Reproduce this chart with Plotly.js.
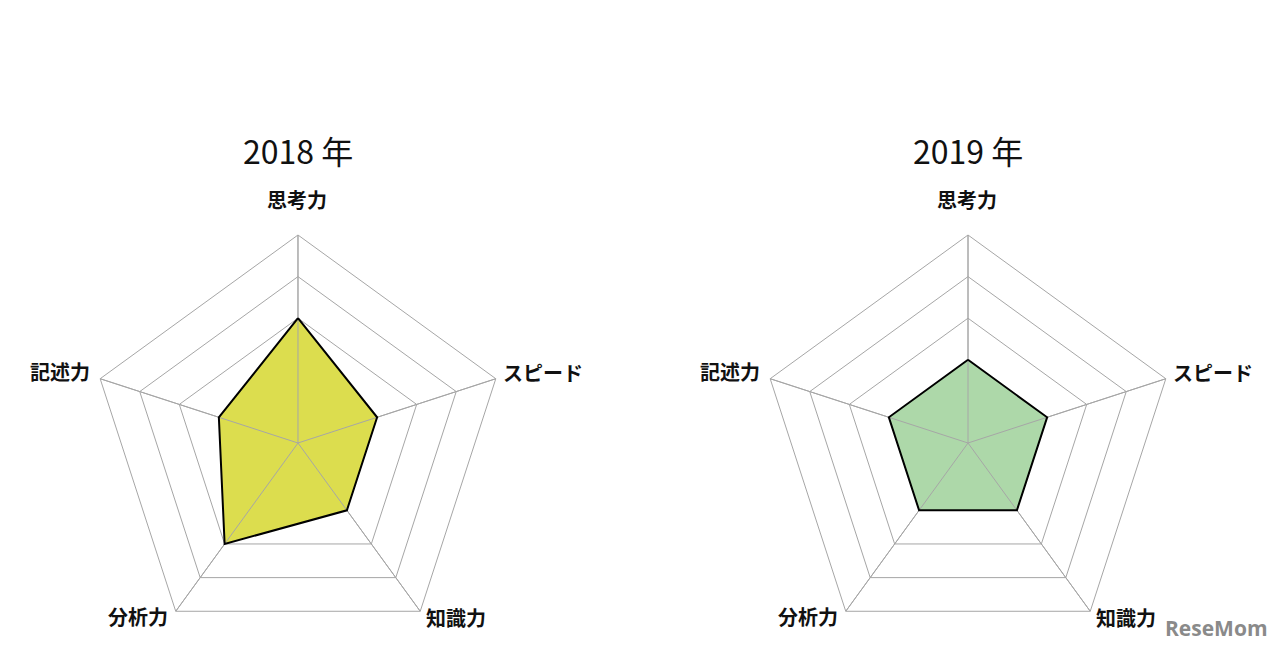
<!DOCTYPE html>
<html>
<head>
<meta charset="utf-8">
<script src="https://cdn.plot.ly/plotly-3.0.1.min.js"></script>
<style>html,body{margin:0;padding:0;background:#fff;}#chart{width:1280px;height:652px;}</style>
</head>
<body>
<div id="chart"></div>
<script>
const categories = ["思考力", "スピード", "知識力", "分析力", "記述力"];
const values2018 = [3, 2, 2, 3, 2];
const values2019 = [2, 2, 2, 2, 2];
const titles = ["2018 年", "2019 年"];
const radialMax = 5;

const gridColor = "#a6a6a6";
const jpFont = '"Noto Sans CJK JP", "Noto Sans", sans-serif';

function closed(arr) { return arr.concat([arr[0]]); }

function spokes(subplot) {
  const r = [], t = [];
  categories.forEach(c => { r.push(0, radialMax, null); t.push(c, c, null); });
  return {type: "scatterpolar", subplot: subplot, r: r, theta: t, mode: "lines",
          line: {color: gridColor, width: 1}, hoverinfo: "skip", showlegend: false, connectgaps: false};
}
function fillOnly(subplot, vals, fill) {
  return {type: "scatterpolar", subplot: subplot, r: closed(vals), theta: closed(categories),
          mode: "lines", fill: "toself", fillcolor: fill, line: {color: "rgba(0,0,0,0)", width: 0},
          showlegend: false, hoverinfo: "skip"};
}
function outline(subplot, vals) {
  return {type: "scatterpolar", subplot: subplot, r: closed(vals), theta: closed(categories),
          mode: "lines", line: {color: "#000", width: 2}, showlegend: false};
}

const data = [
  fillOnly("polar", values2018, "#dcdd4e"),
  spokes("polar"),
  outline("polar", values2018),
  fillOnly("polar2", values2019, "#add8a9"),
  spokes("polar2"),
  outline("polar2", values2019)
];

function polarLayout(xdom) {
  return {
    domain: {x: xdom, y: [0.0015, 0.6396]},
    gridshape: "linear",
    bgcolor: "rgba(0,0,0,0)",
    radialaxis: {range: [0, radialMax], dtick: 1, showticklabels: false, ticks: "",
                 showline: false, gridcolor: gridColor, gridwidth: 1},
    angularaxis: {direction: "clockwise", rotation: 90, categoryorder: "array", categoryarray: categories,
                  showline: true, linecolor: gridColor, linewidth: 1, gridcolor: gridColor,
                  ticks: "", showticklabels: false}
  };
}

// category label placement (pixel centres relative to each chart's centre)
const labelOffsets = [[-1, -244], [245, -71], [158, 174], [-160, 173], [-238, -72]];
const chartCentres = [[298, 443], [968, 443]];

const annotations = [];
chartCentres.forEach((c, i) => {
  annotations.push({text: titles[i], x: c[0] / 1280, y: 1 - 150 / 652, xref: "paper", yref: "paper",
    xanchor: "center", yanchor: "middle", showarrow: false,
    font: {family: jpFont, size: 32, color: "#111"}});
  categories.forEach((cat, k) => {
    annotations.push({text: cat, x: (c[0] + labelOffsets[k][0]) / 1280, y: 1 - (c[1] + labelOffsets[k][1]) / 652,
      xref: "paper", yref: "paper", xanchor: "center", yanchor: "middle", showarrow: false,
      font: {family: jpFont, size: 20, color: "#111", weight: "bold"}});
  });
});
annotations.push({text: "ReseMom", x: 1216 / 1280, y: 1 - 628 / 652, xref: "paper", yref: "paper",
  xanchor: "center", yanchor: "middle", showarrow: false,
  font: {family: '"Open Sans", sans-serif', size: 21, color: "#8a8a8a", weight: "bold"}});

const layout = {
  width: 1280, height: 652,
  margin: {l: 0, r: 0, t: 0, b: 0},
  paper_bgcolor: "#fff",
  showlegend: false,
  polar: polarLayout([0.0703, 0.3953]),
  polar2: polarLayout([0.59375, 0.91875]),
  annotations: annotations
};

Plotly.newPlot("chart", data, layout, {staticPlot: true, displayModeBar: false});
</script>
</body>
</html>
